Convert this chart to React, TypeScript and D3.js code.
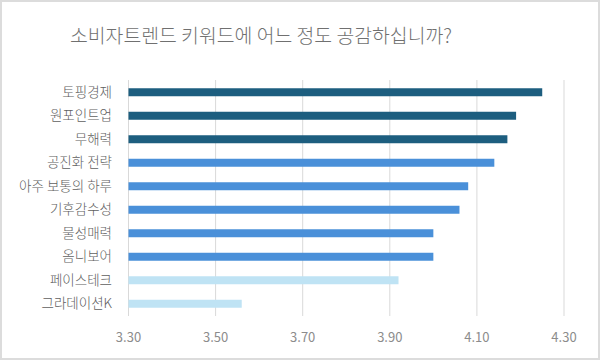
import { useEffect, useRef } from "react";
import * as d3 from "d3";

// survey items, top to bottom
const categories = [
  "토핑경제",
  "원포인트업",
  "무해력",
  "공진화 전략",
  "아주 보통의 하루",
  "기후감수성",
  "물성매력",
  "옴니보어",
  "페이스테크",
  "그라데이션K",
];
const scores = [4.25, 4.19, 4.17, 4.14, 4.08, 4.06, 4.0, 4.0, 3.92, 3.56];
// colour group per bar: 0 = dark, 1 = mid, 2 = light
const groups = [0, 0, 0, 1, 1, 1, 1, 1, 2, 2];
const ticks = [3.3, 3.5, 3.7, 3.9, 4.1, 4.3];
const title = "소비자트렌드 키워드에 어느 정도 공감하십니까?";

export default function App() {
  const ref = useRef<SVGSVGElement>(null);

  useEffect(() => {
    if (!ref.current) return;
    const svg = d3.select(ref.current);
    svg.selectAll("*").remove();

    const width = 600;
    const height = 361;
    const font = "'Noto Sans CJK KR', 'Noto Sans', sans-serif";
    const colors = ["#1d5e7f", "#4a90d9", "#bfe3f4"];

    // frame
    svg
      .append("rect")
      .attr("x", 1)
      .attr("y", 1)
      .attr("width", width - 2)
      .attr("height", height - 3)
      .attr("fill", "#fff")
      .attr("stroke", "#dcdcdc")
      .attr("stroke-width", 2);

    svg
      .append("text")
      .attr("x", 261)
      .attr("y", 43)
      .attr("text-anchor", "middle")
      .attr("font-family", font)
      .attr("font-size", 19.5)
      .attr("font-weight", 300)
      .attr("textLength", 382)
      .attr("lengthAdjust", "spacingAndGlyphs")
      .attr("fill", "#707070")
      .text(title);

    const x = d3.scaleLinear().domain([3.3, 4.3]).range([128.5, 564]);
    const y = d3
      .scaleBand()
      .domain(categories)
      .range([80.5, 315.5])
      .paddingInner(0.66)
      .paddingOuter(0.33);

    // gridlines
    svg
      .append("g")
      .selectAll("line")
      .data(ticks)
      .enter()
      .append("line")
      .attr("x1", (d) => x(d))
      .attr("x2", (d) => x(d))
      .attr("y1", 80)
      .attr("y2", 316)
      .attr("stroke", "#d9d9d9")
      .attr("stroke-width", 1);

    // bars
    svg
      .append("g")
      .selectAll("rect")
      .data(categories)
      .enter()
      .append("rect")
      .attr("x", x(3.3))
      .attr("y", (d) => y(d)!)
      .attr("width", (d, i) => x(scores[i]) - x(3.3))
      .attr("height", y.bandwidth())
      .attr("fill", (d, i) => colors[groups[i]]);

    // category labels
    svg
      .append("g")
      .selectAll("text")
      .data(categories)
      .enter()
      .append("text")
      .attr("x", 112)
      .attr("y", (d) => y(d)! + y.bandwidth() / 2)
      .attr("dy", "0.35em")
      .attr("text-anchor", "end")
      .attr("font-family", font)
      .attr("font-size", 13.5)
      .attr("font-weight", 300)
      .attr("fill", "#606060")
      .text((d) => d);

    // x tick labels
    svg
      .append("g")
      .selectAll("text")
      .data(ticks)
      .enter()
      .append("text")
      .attr("x", (d) => x(d))
      .attr("y", 337)
      .attr("dy", "0.35em")
      .attr("text-anchor", "middle")
      .attr("font-family", font)
      .attr("font-size", 13)
      .attr("fill", "#8c8c8c")
      .text((d) => d3.format(".2f")(d));
  }, []);

  return (
    <svg
      ref={ref}
      width={600}
      height={361}
      style={{ position: "absolute", left: 0, top: 0 }}
    />
  );
}
